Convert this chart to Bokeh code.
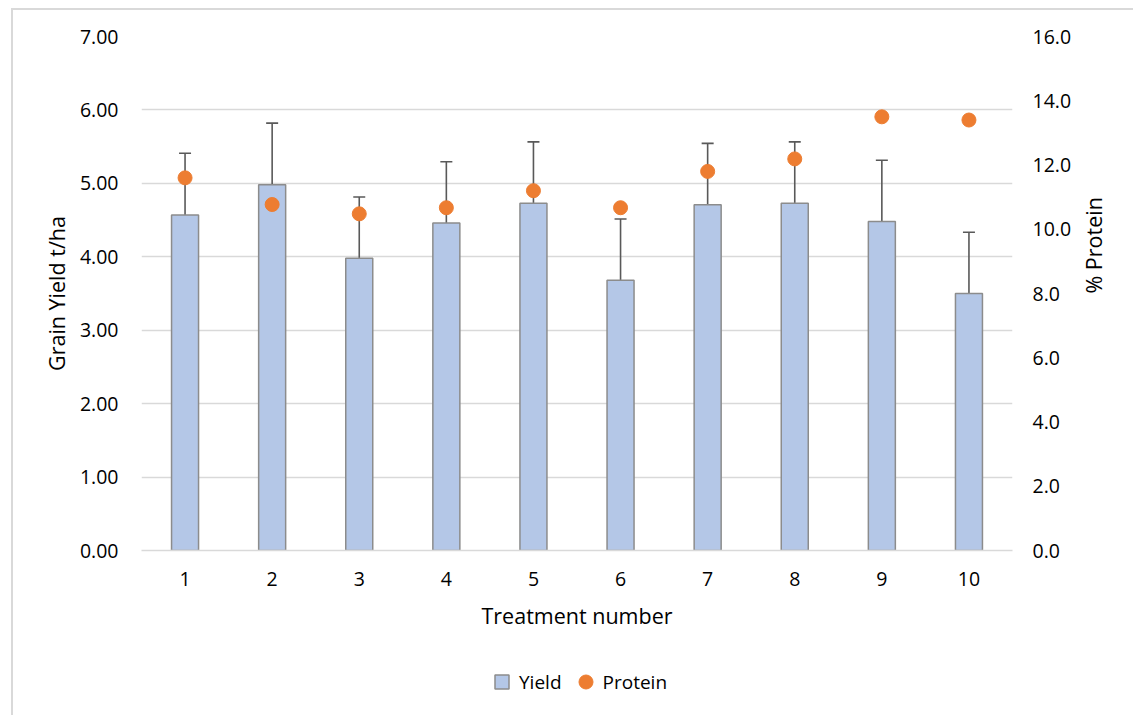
import math
from bokeh.plotting import figure
from bokeh.layouts import column
from bokeh.models import (ColumnDataSource, FactorRange, Range1d, LinearAxis, FixedTicker,
                          NumeralTickFormatter, Whisker, TeeHead, Legend, LegendItem)
from bokeh.embed import file_html
from bokeh.resources import INLINE

# ---- data ----
treatments = ["1", "2", "3", "4", "5", "6", "7", "8", "9", "10"]
yield_t_ha = [4.57, 4.98, 3.98, 4.46, 4.73, 3.68, 4.71, 4.73, 4.48, 3.50]
yield_err = [0.84, 0.84, 0.835, 0.835, 0.835, 0.835, 0.835, 0.835, 0.835, 0.835]
protein_pct = [11.6, 10.77, 10.48, 10.67, 11.2, 10.67, 11.8, 12.19, 13.5, 13.4]
left_ticks = [0, 1, 2, 3, 4, 5, 6, 7]
right_ticks = [0, 2, 4, 6, 8, 10, 12, 14, 16]

FONT = "Open Sans"
BAR_FILL = "#B4C7E7"
BAR_LINE = "#8C8C8C"
ORANGE = "#ED7D31"
GRID = "#D9D9D9"
ERR = "#595959"

src = ColumnDataSource(dict(
    x=treatments,
    y=yield_t_ha,
    upper=[v + e for v, e in zip(yield_t_ha, yield_err)],
    lower=[v - e for v, e in zip(yield_t_ha, yield_err)],
    p=protein_pct,
))

p = figure(
    x_range=FactorRange(*treatments, range_padding=0),
    y_range=Range1d(0, 7),
    width=1120, height=640,
    min_border_left=128, min_border_right=121, min_border_top=26, min_border_bottom=100,
    output_backend="svg", toolbar_location=None,
)
p.extra_y_ranges = {"protein": Range1d(0, 16)}
p.outline_line_color = None
p.background_fill_color = "white"
p.border_fill_color = "white"

bars = p.vbar(x="x", top="y", width=0.31, source=src, fill_color=BAR_FILL,
              line_color=BAR_LINE, line_width=1.5)

wh = Whisker(base="x", upper="upper", lower="lower", source=src,
             line_color=ERR, line_width=1.6,
             upper_head=TeeHead(size=12, line_color=ERR, line_width=1.6),
             lower_head=TeeHead(size=12, line_color=ERR, line_width=1.6))
p.add_layout(wh)

pts = p.scatter(x="x", y="p", source=src, y_range_name="protein", size=14,
                fill_color=ORANGE, line_color=ORANGE, level="overlay")

# grid
p.xgrid.grid_line_color = None
p.ygrid.grid_line_color = GRID
p.ygrid.grid_line_width = 1.3
p.ygrid.ticker = FixedTicker(ticks=left_ticks)

def style_axis(ax):
    ax.axis_line_color = None
    ax.major_tick_line_color = None
    ax.minor_tick_line_color = None
    ax.major_tick_out = 0
    ax.major_tick_in = 0
    ax.minor_tick_out = 0
    ax.minor_tick_in = 0
    ax.major_label_text_font = FONT
    ax.major_label_text_font_size = "19.5px"
    ax.major_label_text_color = "#000000"
    ax.axis_label_text_font = FONT
    ax.axis_label_text_font_size = "21.5px"
    ax.axis_label_text_font_style = "normal"
    ax.axis_label_text_color = "#000000"

# x axis
xa = p.xaxis[0]
style_axis(xa)
xa.axis_label = "Treatment number"
xa.axis_line_color = GRID
xa.axis_line_width = 1.3
xa.major_label_standoff = 21
xa.axis_label_standoff = 12

# left axis
ya = p.yaxis[0]
style_axis(ya)
ya.ticker = FixedTicker(ticks=left_ticks)
ya.formatter = NumeralTickFormatter(format="0.00")
ya.axis_label = "Grain Yield t/ha"
ya.major_label_standoff = 23
ya.axis_label_standoff = 6

# right axis
ra = LinearAxis(y_range_name="protein", ticker=FixedTicker(ticks=right_ticks),
                formatter=NumeralTickFormatter(format="0.0"))
style_axis(ra)
ra.axis_label = "% Protein"
ra.major_label_standoff = 20
ra.axis_label_standoff = 19
ra.axis_label_orientation = math.pi / 2
p.add_layout(ra, "right")

# ---- legend strip below the chart ----
lp = figure(width=1120, height=65, x_range=FactorRange(*treatments), y_range=Range1d(0, 7),
            x_axis_type=None, y_axis_type=None, min_border=0,
            output_backend="svg", toolbar_location=None)
lp.outline_line_color = None
lp.border_fill_color = "white"
lp.background_fill_color = "white"
key_bar = lp.scatter(x="x", y="y", source=src, marker="square", size=14,
                     fill_color=BAR_FILL, line_color=BAR_LINE, line_width=1.5, visible=False)
key_pro = lp.scatter(x="x", y="y", source=src, marker="circle", size=14,
                     fill_color=ORANGE, line_color=ORANGE, visible=False)
leg = Legend(items=[LegendItem(label="Yield", renderers=[key_bar]),
                    LegendItem(label="Protein", renderers=[key_pro])],
             location=(343, 16), orientation="horizontal",
             glyph_width=35, glyph_height=35, label_standoff=0, spacing=6,
             padding=0, margin=0, border_line_color=None, background_fill_alpha=0,
             label_text_font=FONT, label_text_font_size="19px", label_text_color="#000000")
lp.add_layout(leg, "center")

layout = column(p, lp, spacing=0)
layout.styles = {"margin-left": "11px", "margin-top": "8px",
                 "border-left": "2px solid #D9D9D9", "border-top": "2px solid #D9D9D9"}

open("out.html", "w").write(file_html(layout, INLINE))
